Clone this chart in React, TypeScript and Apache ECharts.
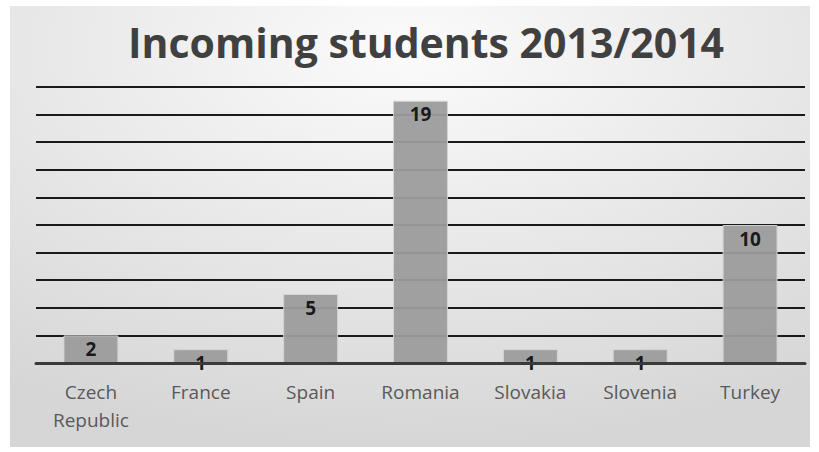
import React, { useEffect, useRef } from "react";
import * as echarts from "echarts";

const categories = ["Czech\nRepublic", "France", "Spain", "Romania", "Slovakia", "Slovenia", "Turkey"];
const students = [2, 1, 5, 19, 1, 1, 10];
const titleText = "Incoming students 2013/2014";

export default function App() {
  const ref = useRef<HTMLDivElement>(null);
  useEffect(() => {
    if (!ref.current) return;
    const chart = echarts.init(ref.current, null, { renderer: "svg" });
    chart.setOption({
      animation: false,
      backgroundColor: "#ffffff",
      graphic: [
        {
          type: "rect",
          shape: { x: 10, y: 6, width: 800, height: 441 },
          silent: true,
          z: -10,
          style: {
            fill: {
              type: "radial",
              x: 0.5,
              y: 0.1,
              r: 0.9,
              colorStops: [
                { offset: 0, color: "#fbfbfb" },
                { offset: 1, color: "#d6d6d6" },
              ],
            },
          },
        },
      ],
      title: {
        text: titleText,
        left: 123,
        top: 16,
        textStyle: {
          fontFamily: "Open Sans",
          fontSize: 41,
          fontWeight: "bold",
          color: "#404040",
        },
      },
      grid: { left: 36, right: 14, top: 87, bottom: 89 },
      xAxis: {
        type: "category",
        data: categories,
        axisTick: { show: false },
        axisLine: { lineStyle: { color: "#3a3a3a", width: 3 } },
        axisLabel: {
          color: "#595959",
          fontSize: 19,
          fontFamily: "Open Sans",
          lineHeight: 28,
          margin: 15,
          interval: 0,
        },
        z: 5,
      },
      yAxis: {
        type: "value",
        min: 0,
        max: 20,
        interval: 2,
        axisLabel: { show: false },
        axisLine: { show: false },
        axisTick: { show: false },
        splitLine: { lineStyle: { color: "#1a1a1a", width: 2 } },
      },
      series: [
        {
          type: "bar",
          data: students,
          barWidth: "50%",
          itemStyle: { color: "#9c9c9c", borderColor: "#d4d4d4", borderWidth: 1, opacity: 0.95 },
          label: {
            show: true,
            position: "insideTop",
            distance: 4,
            color: "#111",
            fontWeight: "bold",
            fontSize: 19,
            fontFamily: "Open Sans",
          },
        },
      ],
    });
    return () => chart.dispose();
  }, []);
  return <div ref={ref} style={{ width: 819, height: 452, position: "absolute", left: 0, top: 0 }} />;
}
